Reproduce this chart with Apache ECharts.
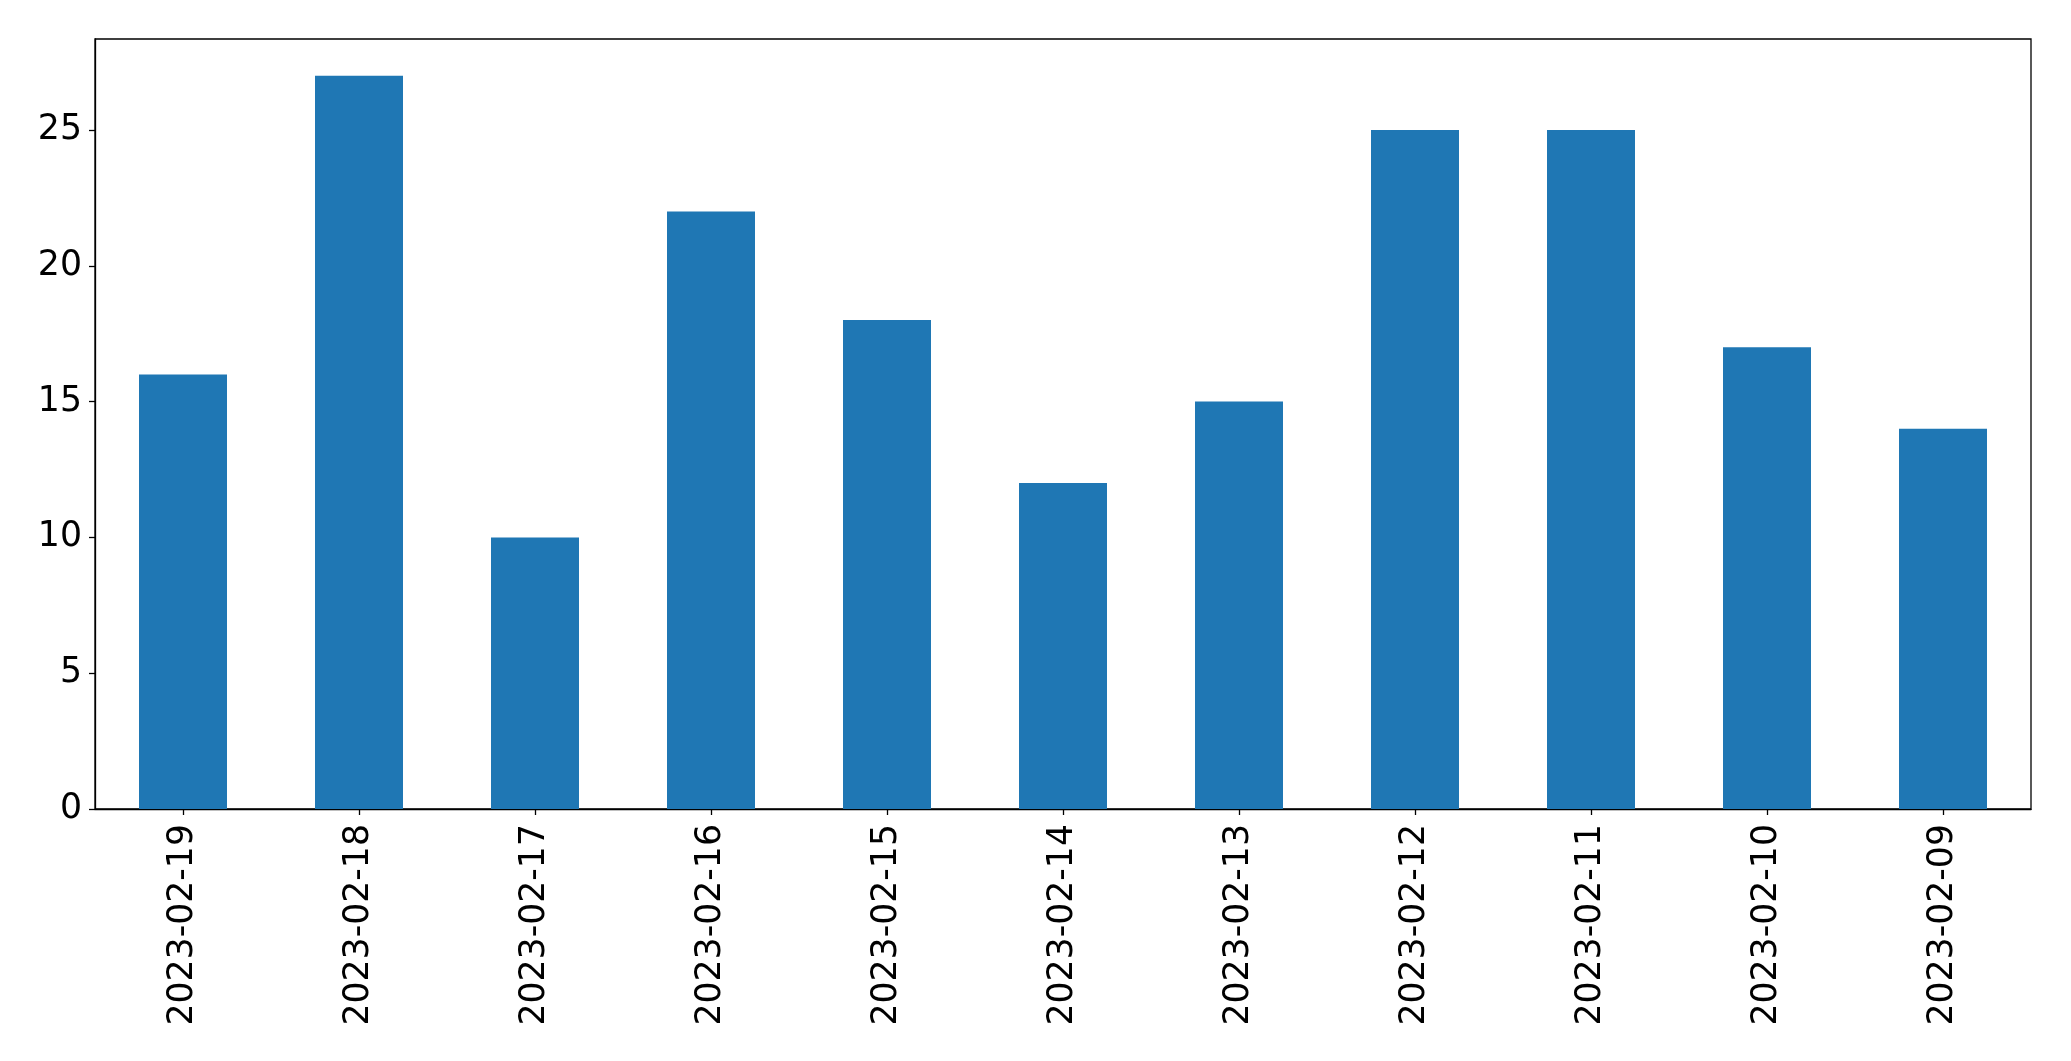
<!DOCTYPE html>
<html>
<head>
<meta charset="utf-8">
<script src="https://cdn.jsdelivr.net/npm/echarts@6/dist/echarts.min.js"></script>
<style>
html,body{margin:0;padding:0;background:#fff;}
#chart{width:2071px;height:1061px;}
</style>
</head>
<body>
<div id="chart"></div>
<script>
const categories = ["2023-02-19","2023-02-18","2023-02-17","2023-02-16","2023-02-15","2023-02-14","2023-02-13","2023-02-12","2023-02-11","2023-02-10","2023-02-09"];
const values = [16, 27, 10, 22, 18, 12, 15, 25, 25, 17, 14];
const yTicks = [0, 5, 10, 15, 20, 25];
const yMax = 28.35;

const chart = echarts.init(document.getElementById('chart'), null, {renderer: 'canvas'});
const font = 'DejaVu Sans';
chart.setOption({
  animation: false,
  backgroundColor: '#ffffff',
  grid: {
    left: 95, top: 39, right: 40, bottom: 252,
    show: true, borderColor: '#000000', borderWidth: 1.3, backgroundColor: 'transparent'
  },
  xAxis: {
    type: 'category',
    data: categories,
    boundaryGap: true,
    axisLine: {show: true, lineStyle: {color: '#000000', width: 1.3}},
    axisTick: {show: true, alignWithLabel: true, length: 6, lineStyle: {color: '#000000', width: 1.3}},
    axisLabel: {rotate: 90, interval: 0, margin: 15, color: '#000000', fontFamily: font, fontSize: 34.7},
    splitLine: {show: false}
  },
  yAxis: {
    type: 'value',
    min: 0, max: yMax, interval: 5,
    axisLine: {show: true, lineStyle: {color: '#000000', width: 1.3}},
    axisTick: {show: true, length: 6, customValues: yTicks, lineStyle: {color: '#000000', width: 1.3}},
    axisLabel: {customValues: yTicks, margin: 13, color: '#000000', fontFamily: font, fontSize: 34.7},
    splitLine: {show: false}
  },
  series: [{
    type: 'bar',
    data: values,
    barWidth: '50%',
    itemStyle: {color: '#1f77b4'}
  }]
});
</script>
</body>
</html>
